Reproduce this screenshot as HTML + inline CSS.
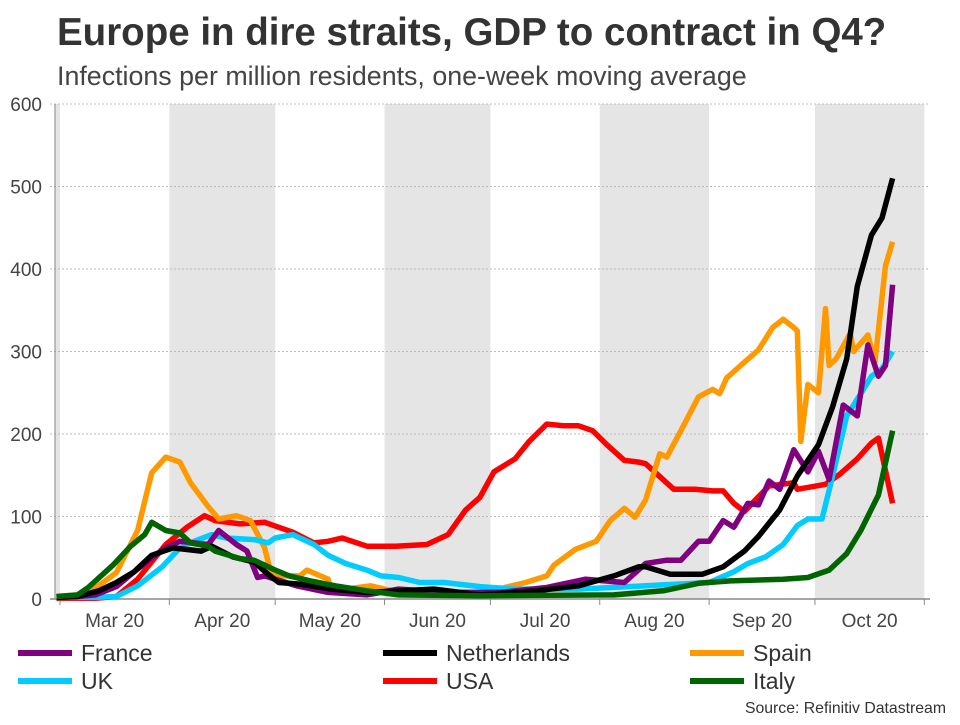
<!DOCTYPE html>
<html><head><meta charset="utf-8"><style>
body{margin:0;background:#fff;font-family:"Liberation Sans",Arial,sans-serif;}
svg text{font-family:"Liberation Sans",Arial,sans-serif;}
</style></head><body>
<svg id="chart" width="960" height="720" xmlns="http://www.w3.org/2000/svg">
<text x="57" y="45" font-size="38.5" font-weight="bold" fill="#333">Europe in dire straits, GDP to contract in Q4?</text>
<text x="57" y="85" font-size="26.8" fill="#444">Infections per million residents, one-week moving average</text>
<g id="bands"></g><g id="grid"></g><g id="axes"></g><g id="series"></g><g id="legend"></g>
<text x="946" y="713" font-size="15.8" fill="#333" text-anchor="end">Source: Refinitiv Datastream</text>
</svg>
<script>
const yTicks=[0,100,200,300,400,500,600];
const monthLabels=["Mar 20","Apr 20","May 20","Jun 20","Jul 20","Aug 20","Sep 20","Oct 20"];
const monthStartDays=[0,31,61,92,122,153,184,214,245];
const franceDays=[-1,5,10,16,21,26,30,34,42,45,50,53,56,58,67,76,87,96,110,125,138,149,160,166,172,176,181,184,188,191,195,198,201,204,208,212,215,218,222,226,229,232,234,236];
const franceVals=[2,3,5,15,33,50,62,70,66,83,66,58,26,28,16,8,5,12,8,8,14,24,20,43,47,47,70,70,95,87,116,114,143,133,181,154,179,145,235,222,308,270,283,381];
const nlDays=[-1,5,11,16,21,26,32,40,43,49,55,59,62,68,77,87,106,119,135,147,157,164,166,173,182,188,194,198,204,209,215,219,223,226,230,233,236];
const nlVals=[2,3,10,20,33,53,62,58,64,51,45,30,20,18,12,8,12,5,10,16,28,39,39,30,30,39,58,76,108,149,187,233,291,379,441,462,510];
const spainDays=[-1,5,9,16,22,26,30,34,37,42,45,50,54,58,60,68,70,76,77,88,96,110,122,126,132,138,140,146,152,156,160,163,166,170,172,176,181,185,187,189,194,198,202,205,208,209,210,212,215,217,218,220,224,225,229,231,234,236];
const spainVals=[2,3,10,32,83,153,172,166,141,112,97,101,95,62,28,28,35,24,10,16,8,6,5,14,20,28,41,60,70,95,110,99,120,176,172,204,245,254,249,268,287,302,329,339,329,325,191,260,250,352,283,291,322,300,320,287,404,433];
const ukDays=[-1,10,16,22,29,34,38,43,47,55,59,61,66,72,76,81,87,91,96,102,109,119,129,147,166,184,191,195,200,205,209,212,216,219,223,227,230,233,236];
const ukVals=[2,2,3,16,39,62,70,78,74,72,68,74,78,66,53,43,35,28,26,20,20,15,12,12,16,20,33,43,51,66,89,97,97,149,222,249,270,279,300];
const usaDays=[-1,10,16,22,30,36,41,44,51,58,66,72,76,80,87,95,104,110,115,119,123,129,133,138,143,147,151,155,160,164,166,174,180,185,188,191,194,198,201,208,209,217,221,226,230,232,236];
const usaVals=[1,1,3,24,66,87,101,95,91,93,81,68,70,74,64,64,66,78,108,123,154,170,191,212,210,210,204,187,168,166,164,133,133,131,131,116,106,124,137,141,133,139,151,170,189,195,116];
const italyDays=[-1,5,8,15,20,24,26,30,34,37,42,44,51,55,59,61,65,71,78,87,96,119,157,171,181,190,205,212,218,223,227,232,236];
const italyVals=[3,5,14,41,64,78,93,83,80,68,64,58,49,47,39,35,28,22,16,10,5,4,5,10,19,22,24,26,35,55,83,126,204];
const seriesNames=["France","Netherlands","Spain","UK","USA","Italy"];
const seriesColors=["#800080","#000000","#ff9900","#00ccff","#ff0000","#006400"];
const seriesDays=[franceDays,nlDays,spainDays,ukDays,usaDays,italyDays];
const seriesVals=[franceVals,nlVals,spainVals,ukVals,usaVals,italyVals];

const NS="http://www.w3.org/2000/svg";
const X0=60,X1=924.3,Y0=599,Y1=104;
const xScale=d=>X0+d*(X1-X0)/245;
const yScale=v=>Y0-v*(Y0-Y1)/600;
function mk(tag,attrs,parent){const e=document.createElementNS(NS,tag);for(const k in attrs)e.setAttribute(k,attrs[k]);document.getElementById(parent).appendChild(e);return e;}

let b=mk("rect",{x:55,y:Y1,width:5,height:Y0-Y1,fill:"#e5e5e5"},"bands");


for(let i=1;i<8;i+=2){
  const r=mk("rect",{x:xScale(monthStartDays[i]),y:Y1,width:xScale(monthStartDays[i+1])-xScale(monthStartDays[i]),height:Y0-Y1,fill:"#e5e5e5"},"bands");
  
  
}
yTicks.forEach(t=>{
  const y=yScale(t);
  if(t>0){const g=mk("line",{x1:50,x2:930,y1:y,y2:y,stroke:"#bbb","stroke-width":1,"stroke-dasharray":"2,2"},"grid");
  
  }
  const l=mk("text",{x:42,y:y+7,"font-size":19,fill:"#444","text-anchor":"end"},"axes");
  l.textContent=t;
  
  
});
let ax=mk("line",{x1:55,x2:55,y1:Y1,y2:Y0,stroke:"#888","stroke-width":1},"axes");


ax=mk("line",{x1:50,x2:930,y1:Y0,y2:Y0,stroke:"#888","stroke-width":1.5},"axes");


monthStartDays.forEach(d=>{
  const t=mk("line",{x1:xScale(d),x2:xScale(d),y1:Y0,y2:Y0+6,stroke:"#888"},"axes");
  
  
});
monthLabels.forEach((m,i)=>{
  const cx=(xScale(monthStartDays[i])+xScale(monthStartDays[i+1]))/2;
  const t=mk("text",{x:cx,y:627,"font-size":19,fill:"#444","text-anchor":"middle"},"axes");
  t.textContent=m;
  
  
});
const order=[4,2,3,0,1,5];
order.forEach(i=>{
  const pts=seriesDays[i].map((d,j)=>xScale(d).toFixed(1)+","+yScale(seriesVals[i][j]).toFixed(1)).join(" ");
  const p=mk("polyline",{points:pts,fill:"none",stroke:seriesColors[i],"stroke-width":5.5,"stroke-linejoin":"round"},"series");
  
  
});
const lx=[18,383,690],ly=[653,681];
seriesNames.forEach((n,i)=>{
  const x=lx[i%3],y=ly[Math.floor(i/3)];
  const s=mk("line",{x1:x,x2:x+54,y1:y,y2:y,stroke:seriesColors[i],"stroke-width":6},"legend");
  
  
  const t=mk("text",{x:x+63,y:y+8,"font-size":23,fill:"#333"},"legend");
  t.textContent=n;
  
  
});
</script>
</body></html>
